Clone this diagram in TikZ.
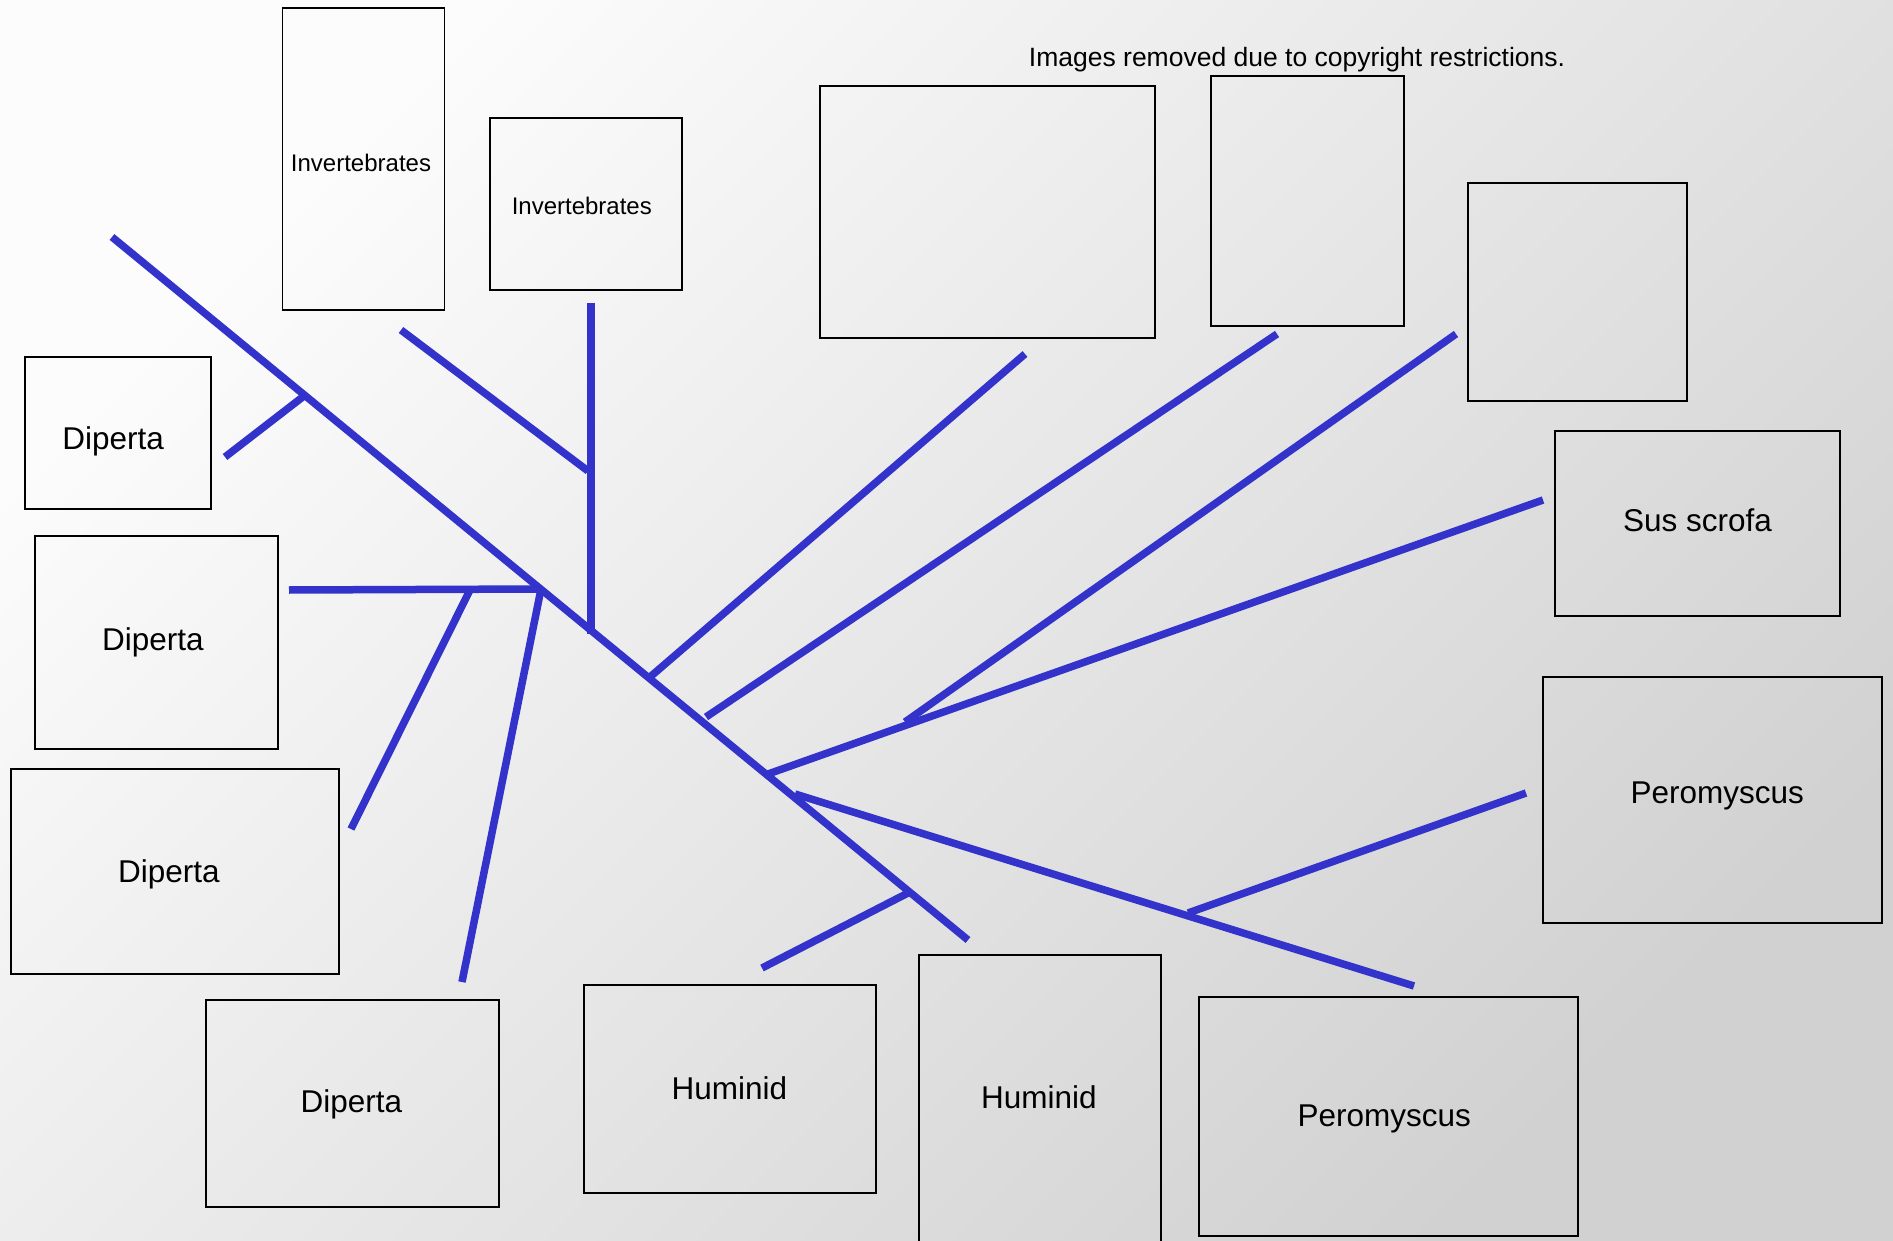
\documentclass[tikz,border=0pt]{standalone}
\usepackage{fontspec}
\setmainfont{Liberation Sans}
\begin{document}
\begin{tikzpicture}[x=1pt,y=-1pt,
  box/.style={draw=black, line width=1.8pt, inner sep=0pt, fill=none},
  lbl/.style={font=\fontsize{31.5}{36}\selectfont, inner sep=0pt},
  smalllbl/.style={font=\fontsize{24}{28}\selectfont, inner sep=0pt},
  branch/.style={draw=treeblue, line width=7.5pt, line cap=butt}]
\definecolor{treeblue}{RGB}{51,51,204}
% page and background gradient
\useasboundingbox (0,0) rectangle (1893,1241);
\shade[top color=black!1, bottom color=black!18, shading angle=45] (0,0) rectangle (1893,1241);
\clip (0,0) rectangle (1893,1241);

% heading
\node[font=\fontsize{26.5}{30}\selectfont, inner sep=0pt] (head) at (1297,59.5) {Images removed due to copyright restrictions.};

% boxes
\node[box, minimum width=162pt, minimum height=302pt] (inv1) at (363.4,159.4) {};
\node[box, minimum width=192pt, minimum height=172pt] (inv2) at (586,204) {};
\node[box, minimum width=335pt, minimum height=252pt] (img1) at (987.5,212) {};
\node[box, minimum width=193pt, minimum height=250pt] (img2) at (1307.5,201) {};
\node[box, minimum width=219pt, minimum height=218pt] (img3) at (1577.5,292) {};
\node[box, minimum width=285pt, minimum height=185pt] (sus) at (1697.5,523.5) {};
\node[box, minimum width=339pt, minimum height=246pt] (pero1) at (1712.5,800) {};
\node[box, minimum width=379pt, minimum height=239pt] (pero2) at (1388.5,1116.5) {};
\node[box, minimum width=242pt, minimum height=320pt] (hum2) at (1040,1115) {};
\node[box, minimum width=292pt, minimum height=208pt] (hum1) at (730,1089) {};
\node[box, minimum width=293pt, minimum height=207pt] (dip4) at (352.5,1103.5) {};
\node[box, minimum width=328pt, minimum height=205pt] (dip3) at (175,871.5) {};
\node[box, minimum width=243pt, minimum height=213pt] (dip2) at (156.5,642.5) {};
\node[box, minimum width=186pt, minimum height=152pt] (dip1) at (118,433) {};

% box labels
\node[smalllbl] (inv1-t) at (361,163) {Invertebrates};
\node[smalllbl] (inv2-t) at (581.8,206.4) {Invertebrates};
\node[lbl] (sus-t) at (1697.5,520) {Sus scrofa};
\node[lbl] (pero1-t) at (1717.3,796.4) {Peromyscus};
\node[lbl] (pero2-t) at (1384.3,1118.9) {Peromyscus};
\node[lbl] (hum2-t) at (1038.8,1097) {Huminid};
\node[lbl] (hum1-t) at (729.4,1087.8) {Huminid};
\node[lbl] (dip4-t) at (351.3,1104.7) {Diperta};
\node[lbl] (dip3-t) at (169,873.9) {Diperta};
\node[lbl] (dip2-t) at (152.9,642.5) {Diperta};
\node[lbl] (dip1-t) at (113.2,441.5) {Diperta};

% tree points
\coordinate (root) at (112,237);
\coordinate (tip) at (968,940);
\coordinate (j1) at (304,396);   \coordinate (d1) at (225,457);
\coordinate (j2) at (541,589);   \coordinate (h1) at (289,590);
\coordinate (j2b) at (470,590);  \coordinate (d3) at (351,829);
\coordinate (d4) at (462,982);
\coordinate (jv) at (591,634);   \coordinate (vtop) at (591,303);
\coordinate (jvi) at (588,471);  \coordinate (i1) at (401,330);
\coordinate (j3) at (650,677);   \coordinate (e1) at (1025,354);
\coordinate (j4) at (706,717);   \coordinate (e2) at (1277,334);
\coordinate (j5) at (768,774);   \coordinate (e5) at (1543,500);
\coordinate (j6) at (905,722);   \coordinate (e6) at (1456,334);
\coordinate (j7) at (795,794);   \coordinate (e7) at (1414,986);
\coordinate (j8) at (1188,913);  \coordinate (e8) at (1526,793);
\coordinate (j9) at (908,893);   \coordinate (e9) at (762,968);

% trunk and branches
\draw[branch] (root) -- (tip);
\draw[branch] (d1) -- (j1);
\draw[branch] (h1) -- (j2);
\draw[branch] (d3) -- (j2b);
\draw[branch] (d4) -- (j2);
\draw[branch] (vtop) -- (jv);
\draw[branch] (i1) -- (jvi);
\draw[branch] (j3) -- (e1);
\draw[branch] (j4) -- (e2);
\draw[branch] (j5) -- (e5);
\draw[branch] (j6) -- (e6);
\draw[branch] (j7) -- (e7);
\draw[branch] (j8) -- (e8);
\draw[branch] (e9) -- (j9);
\end{tikzpicture}
\end{document}
